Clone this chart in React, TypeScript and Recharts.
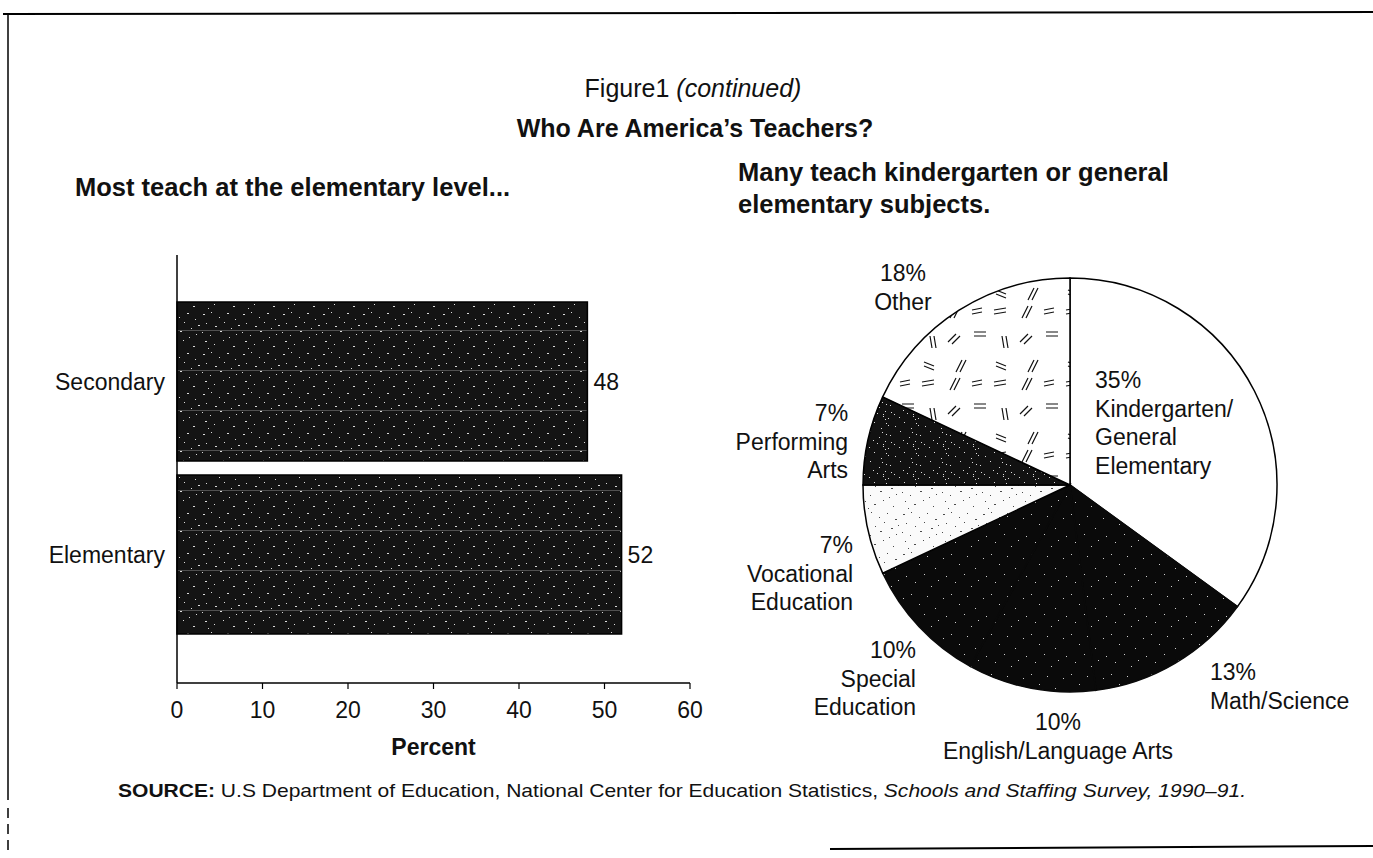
import React from 'react';
import { BarChart, Bar, XAxis, YAxis, LabelList, PieChart, Pie, Cell } from 'recharts';

// ---------- data ----------
const levelCategories = ['Secondary', 'Elementary'];
const levelPercents = [48, 52];
const xTicks = [0, 10, 20, 30, 40, 50, 60];

const subjectNames = [
  'Kindergarten/\nGeneral\nElementary',
  'Math/Science',
  'English/Language Arts',
  'Special\nEducation',
  'Vocational\nEducation',
  'Performing\nArts',
  'Other',
];
const subjectPercents = [35, 13, 10, 10, 7, 7, 18];

const barData = levelCategories.map((c, i) => ({ level: c, percent: levelPercents[i] }));
const pieData = subjectNames.map((n, i) => ({ name: n, value: subjectPercents[i] }));

// ---------- styles ----------
const FONT = '"Liberation Sans", Arial, Helvetica, sans-serif';
const INK = '#111';
const sliceFills = [
  '#ffffff',
  'url(#darkSpeckle)',
  'url(#darkSpeckle)',
  'url(#darkSpeckle)',
  'url(#lightSpeckle)',
  'url(#darkSpeckle2)',
  'url(#dashMarks)',
];
const sliceStrokes = ['#000', '#0a0a0a', '#0a0a0a', '#0a0a0a', '#000', '#000', '#000'];
// label placement relative to pie centre, in units of the outer radius
const labelLayout = [
  { dx: 0.121, dy: -0.507, anchor: 'start' },
  { dx: 0.676, dy: 0.903, anchor: 'start' },
  { dx: -0.058, dy: 1.145, anchor: 'middle' },
  { dx: -0.744, dy: 0.797, anchor: 'end' },
  { dx: -1.048, dy: 0.29, anchor: 'end' },
  { dx: -1.072, dy: -0.348, anchor: 'end' },
  { dx: -0.807, dy: -1.024, anchor: 'middle' },
];

const speckDots = [
  [3, 4], [11, 2], [19, 7], [27, 3], [35, 9], [6, 13], [15, 16], [24, 12], [31, 18], [38, 15],
  [2, 22], [10, 25], [20, 21], [29, 27], [36, 24], [5, 31], [14, 34], [23, 30], [33, 36], [8, 38],
];

const renderPieLabel = (props: any) => {
  const { cx, cy, outerRadius, index, value } = props;
  const name = props.name ?? props.payload?.name ?? '';
  const L = labelLayout[index];
  const x = cx + L.dx * outerRadius;
  const y0 = cy + L.dy * outerRadius;
  const lines = [`${value}%`, ...String(name).split('\n')];
  return (
    <text x={x} y={y0} textAnchor={L.anchor} fontSize={23} fontFamily={FONT} fill={INK}>
      {lines.map((ln, i) => (
        <tspan key={i} x={x} y={y0 + i * 28.5} dy="0.36em">
          {ln}
        </tspan>
      ))}
    </text>
  );
};

const Patterns = () => (
  <svg width={0} height={0} style={{ position: 'absolute' }}>
    <defs>
      <pattern id="barSpeckle" width={40} height={40} patternUnits="userSpaceOnUse">
        <rect width={40} height={40} fill="#141414" />
        {speckDots.map(([x, y], i) => (
          <rect key={i} x={x} y={y} width={i % 3 === 0 ? 2 : 1} height={1} fill="#fff" opacity={0.85} />
        ))}
        <rect x={0} y={20} width={40} height={1} fill="#fff" opacity={0.25} />
      </pattern>
      <pattern id="darkSpeckle" width={40} height={40} patternUnits="userSpaceOnUse">
        <rect width={40} height={40} fill="#0a0a0a" />
        {speckDots.slice(0, 10).map(([x, y], i) => (
          <rect key={i} x={x} y={(y * 2) % 40} width={1} height={1} fill="#fff" opacity={0.8} />
        ))}
      </pattern>
      <pattern id="darkSpeckle2" width={30} height={30} patternUnits="userSpaceOnUse">
        <rect width={30} height={30} fill="#121212" />
        {speckDots.map(([x, y], i) => (
          <rect key={i} x={x % 30} y={y % 30} width={1} height={1} fill="#fff" opacity={0.85} />
        ))}
      </pattern>
      <pattern id="lightSpeckle" width={40} height={40} patternUnits="userSpaceOnUse">
        <rect width={40} height={40} fill="#fafafa" />
        {speckDots.map(([x, y], i) => (
          <rect key={i} x={x} y={y} width={i % 4 === 0 ? 2 : 1} height={1} fill="#000" opacity={0.7} />
        ))}
      </pattern>
      <pattern id="dashMarks" width={72} height={72} patternUnits="userSpaceOnUse">
        <rect width={72} height={72} fill="#fff" />
        <g stroke="#111" strokeWidth={1.2}>
          <path d="M6 8 l12 -2 M6 12 l12 -2" />
          <path d="M40 4 l-6 12 M44 4 l-6 12" />
          <path d="M58 30 l12 0 M58 34 l12 0" />
          <path d="M14 34 l2 12 M18 34 l2 12" />
          <path d="M32 40 l8 -8 M36 42 l8 -8" />
          <path d="M8 60 l10 4 M8 64 l10 4" />
          <path d="M46 58 l-6 12 M50 58 l-6 12" />
          <path d="M56 8 l10 -2 M56 12 l10 -2" />
        </g>
      </pattern>
    </defs>
  </svg>
);

export default function App() {
  return (
    <div
      style={{
        position: 'absolute',
        left: 0,
        top: 0,
        width: 1373,
        height: 858,
        background: '#fff',
        overflow: 'hidden',
        fontFamily: FONT,
      }}
    >
      <Patterns />

      {/* Bar chart */}
      <div style={{ position: 'absolute', left: 0, top: 230 }}>
        <BarChart
          width={720}
          height={533}
          data={barData}
          layout="vertical"
          margin={{ top: 25, right: 30, left: 0, bottom: 0 }}
          barCategoryGap={7}
        >
          <XAxis
            type="number"
            dataKey="percent"
            domain={[0, 60]}
            ticks={xTicks}
            interval={0}
            height={80}
            axisLine={{ stroke: '#000', strokeWidth: 1.5 }}
            tickLine={{ stroke: '#000', strokeWidth: 1.2 }}
            tickSize={6}
            tickMargin={13}
            tick={{ fontSize: 23, fill: INK, fontFamily: FONT }}
            label={{
              value: 'Percent',
              position: 'insideBottom',
              offset: 8,
              style: { fontWeight: 'bold', fontSize: 23, fill: INK, fontFamily: FONT },
            }}
          />
          <YAxis
            type="category"
            dataKey="level"
            width={177}
            axisLine={{ stroke: '#000', strokeWidth: 1.5 }}
            tickLine={false}
            tickSize={0}
            tickMargin={12}
            padding={{ top: 40, bottom: 42 }}
            tick={{ fontSize: 23, fill: INK, fontFamily: FONT }}
          />
          <Bar dataKey="percent" fill="url(#barSpeckle)" stroke="#000" strokeWidth={1.5} isAnimationActive={false}>
            <LabelList
              dataKey="percent"
              position="right"
              offset={6}
              style={{ fontSize: 23, fill: INK, fontFamily: FONT }}
            />
          </Bar>
        </BarChart>
      </div>

      {/* Pie chart */}
      <div style={{ position: 'absolute', left: 700, top: 230 }}>
        <PieChart width={673} height={560}>
          <Pie
            data={pieData}
            dataKey="value"
            nameKey="name"
            cx={365}
            cy={250}
            outerRadius={207}
            startAngle={90}
            endAngle={-270}
            stroke="#000"
            strokeWidth={1.5}
            label={renderPieLabel}
            labelLine={false}
            isAnimationActive={false}
          >
            {pieData.map((d, i) => (
              <Cell key={d.name} fill={sliceFills[i]} stroke={sliceStrokes[i]} />
            ))}
          </Pie>
        </PieChart>
      </div>

      {/* Text and frame */}
      <svg
        width={1373}
        height={858}
        style={{ position: 'absolute', left: 0, top: 0, pointerEvents: 'none' }}
        fontFamily={FONT}
      >
        <line x1={3} y1={14} x2={1373} y2={12} stroke="#000" strokeWidth={2} />
        <line x1={8} y1={14} x2={8} y2={800} stroke="#000" strokeWidth={1.5} />
        <line x1={8} y1={808} x2={8} y2={850} stroke="#000" strokeWidth={1.5} strokeDasharray="10 6" />
        <line x1={830} y1={849} x2={1373} y2={846} stroke="#000" strokeWidth={2} />

        <text x={693} y={97} textAnchor="middle" fontSize={25} fill={INK}>
          Figure1 <tspan fontStyle="italic">(continued)</tspan>
        </text>
        <text x={695} y={137} textAnchor="middle" fontSize={25} fontWeight="bold" fill={INK}>
          Who Are America’s Teachers?
        </text>

        <text x={75} y={196} fontSize={25.5} fontWeight="bold" fill={INK}>
          Most teach at the elementary level...
        </text>
        <text x={738} y={181} fontSize={25.5} fontWeight="bold" fill={INK}>
          Many teach kindergarten or general
        </text>
        <text x={738} y={213} fontSize={25.5} fontWeight="bold" fill={INK}>
          elementary subjects.
        </text>

        <text x={118} y={797} fontSize={19} fill={INK} textLength={1128} lengthAdjust="spacingAndGlyphs">
          <tspan fontWeight="bold">SOURCE:</tspan> U.S  Department of Education, National Center for Education
          Statistics, <tspan fontStyle="italic">Schools and Staffing Survey, 1990–91.</tspan>
        </text>
      </svg>
    </div>
  );
}
